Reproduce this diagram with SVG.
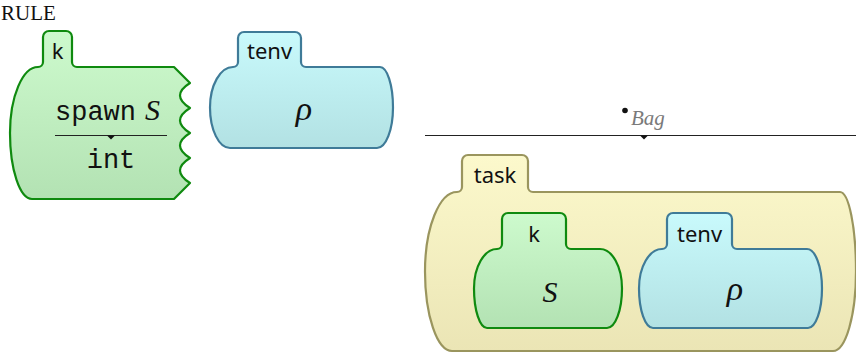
<svg xmlns="http://www.w3.org/2000/svg" width="856" height="358" viewBox="0 0 856 358">
<defs>
<linearGradient id="gGreen" x1="0" y1="0" x2="0" y2="1"><stop offset="0" stop-color="#cdfacd"/><stop offset="1" stop-color="#b3e2b3"/></linearGradient>
<linearGradient id="gBlue" x1="0" y1="0" x2="0" y2="1"><stop offset="0" stop-color="#c9fafc"/><stop offset="1" stop-color="#b2e1e3"/></linearGradient>
<linearGradient id="gYellow" x1="0" y1="0" x2="0" y2="1"><stop offset="0" stop-color="#fcf9cc"/><stop offset="1" stop-color="#ebe5b5"/></linearGradient>
</defs>
<style>
.k{fill:url(#gGreen);stroke:#0f8a0f;stroke-width:2.2;stroke-linejoin:round}
.tenv{fill:url(#gBlue);stroke:#3f7b98;stroke-width:2.2;stroke-linejoin:round}
.task{fill:url(#gYellow);stroke:#9a955e;stroke-width:2.2;stroke-linejoin:round}
.lbl{font-family:"Noto Sans","DejaVu Sans",sans-serif;font-size:22px;fill:#111;text-anchor:middle}
.math{font-family:"Liberation Serif",serif;font-style:italic;font-size:30px;fill:#111}
.rho{font-size:34px}
.mono{font-family:"Liberation Mono",monospace;font-size:27px;fill:#111}
.rule{stroke:#222;stroke-width:1.2}
</style>

<text x="1" y="20" font-family="Liberation Serif,serif" font-size="21" fill="#111">RULE</text>

<g id="k-rule">
<path class="k" d="M38,67 A5,5 0 0 0 43,62 L43,37 A6,6 0 0 1 49,31 L66,31 A6,6 0 0 1 72,37 L72,62 A5,5 0 0 0 77,67 L174,67 L190,83 Q170,95.5 190,108 Q170,120.5 190,133 Q170,145.5 190,158 Q170,170.5 190,183 L174,199 L32,199 A22,66 0 0 1 10,133 A28,66 0 0 1 38,67 Z"/>
<text class="lbl" x="57.5" y="59">k</text>
<text class="mono" x="55" y="120">spawn</text>
<text class="math" x="145" y="120">S</text>
<line class="rule" x1="55" y1="135.5" x2="167" y2="135.5"/>
<polygon points="107,135.5 115,135.5 111,139.5" fill="#111"/>
<text class="mono" x="111" y="168" text-anchor="middle">int</text>
</g>

<g id="tenv-rule">
<path class="tenv" d="M233,67 A5,5 0 0 0 238,62 L238,38 A6,6 0 0 1 244,32 L295,32 A6,6 0 0 1 301,38 L301,62 A5,5 0 0 0 306,67 L380,67 A13,40.5 0 0 1 393,107.5 A16,40.5 0 0 1 377,148 L230,148 A20,40.5 0 0 1 210,107.5 A23,40.5 0 0 1 233,67 Z"/>
<text class="lbl" x="269.5" y="59">tenv</text>
<text class="math rho" x="304" y="120" text-anchor="middle">ρ</text>
</g>

<g id="connectors">
<line class="rule" x1="425" y1="135.5" x2="856" y2="135.5"/>
<polygon points="640,135.5 648,135.5 644,139.5" fill="#111"/>
<circle cx="625" cy="110.5" r="2.8" fill="#111"/>
<text x="631" y="125" font-family="Liberation Serif,serif" font-style="italic" font-size="21" fill="#7a7a7a">Bag</text>
</g>

<g id="task">
<path class="task" d="M457,192 A5,5 0 0 0 462,187 L462,161 A6,6 0 0 1 468,155 L522,155 A6,6 0 0 1 528,161 L528,187 A5,5 0 0 0 533,192 L840,192 A16,79.5 0 0 1 856,271.5 A23,79.5 0 0 1 833,351 L452,351 A27,79.5 0 0 1 425,271.5 A32,79.5 0 0 1 457,192 Z"/>
<text class="lbl" x="495" y="183">task</text>
</g>

<g id="k-inner">
<path class="k" d="M497,249 A5,5 0 0 0 502,244 L502,219 A6,6 0 0 1 508,213 L560,213 A6,6 0 0 1 566,219 L566,244 A5,5 0 0 0 571,249 L600,249 A22,39.5 0 0 1 622,288.5 A15,39.5 0 0 1 607,328 L487,328 A13,39.5 0 0 1 474,288.5 A23,39.5 0 0 1 497,249 Z"/>
<text class="lbl" x="534" y="242">k</text>
<text class="math" x="550" y="302" text-anchor="middle">S</text>
</g>

<g id="tenv-inner">
<path class="tenv" d="M662,249 A5,5 0 0 0 667,244 L667,219 A6,6 0 0 1 673,213 L726,213 A6,6 0 0 1 732,219 L732,244 A5,5 0 0 0 737,249 L807,249 A15,39.5 0 0 1 822,288.5 A14,39.5 0 0 1 808,328 L653,328 A14,39.5 0 0 1 639,288.5 A23,39.5 0 0 1 662,249 Z"/>
<text class="lbl" x="699.5" y="242">tenv</text>
<text class="math rho" x="735" y="300" text-anchor="middle">ρ</text>
</g>
</svg>
